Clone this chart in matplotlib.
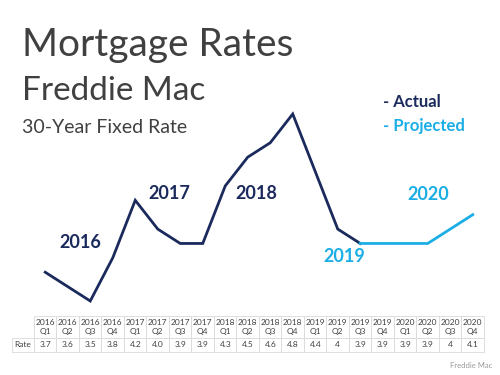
import matplotlib.pyplot as plt

years = ["2016", "2016", "2016", "2016", "2017", "2017", "2017", "2017",
         "2018", "2018", "2018", "2018", "2019", "2019", "2019", "2019",
         "2020", "2020", "2020", "2020"]
quarters = ["Q1", "Q2", "Q3", "Q4"] * 5
rates = [3.7, 3.6, 3.5, 3.8, 4.2, 4.0, 3.9, 3.9, 4.3, 4.5, 4.6, 4.8,
         4.4, 4.0, 3.9, 3.9, 3.9, 3.9, 4.0, 4.1]
rate_labels = ["3.7", "3.6", "3.5", "3.8", "4.2", "4.0", "3.9", "3.9", "4.3", "4.5",
               "4.6", "4.8", "4.4", "4", "3.9", "3.9", "3.9", "3.9", "4", "4.1"]
n_actual = 15  # through 2019 Q3, projected after

navy = "#1b2a5c"
sky = "#1aaee5"
grey = "#404040"
font = "Lato"

W, H = 500, 375
fig = plt.figure(figsize=(5, 3.75), dpi=100)

def box(x0, y0, x1, y1):
    return [x0 / W, 1 - y1 / H, (x1 - x0) / W, (y1 - y0) / H]

ax = fig.add_axes(box(34, 100, 484, 310))
x = list(range(len(rates)))
ax.plot(x[:n_actual], rates[:n_actual], color=navy, lw=2.0, solid_joinstyle="miter")
ax.plot(x[n_actual - 1:], rates[n_actual - 1:], color=sky, lw=2.0, solid_joinstyle="miter")
ax.set_xlim(-0.5, 19.5)
ax.set_ylim(3.5 - 9 / 144, 4.8 + 14 / 144)
ax.axis("off")

# year labels
ylab = dict(fontsize=13, fontweight="bold", ha="center", va="center", family=font)
ax.text(1.55, 3.91, "2016", color=navy, **ylab)
ax.text(5.5, 4.25, "2017", color=navy, **ylab)
ax.text(9.4, 4.25, "2018", color=navy, **ylab)
ax.text(13.3, 3.81, "2019", color=sky, **ylab)
ax.text(17.0, 4.24, "2020", color=sky, **ylab)

# titles
fig.text(22 / W, 1 - 56 / H, "Mortgage Rates", color=grey, fontsize=28, family=font)
fig.text(22 / W, 1 - 100 / H, "Freddie Mac", color=grey, fontsize=24, family=font)
fig.text(22 / W, 1 - 133 / H, "30-Year Fixed Rate", color=grey, fontsize=14, family=font)

fig.text(383 / W, 1 - 107 / H, "- Actual", color=navy, fontsize=12, fontweight="bold", family=font)
fig.text(383 / W, 1 - 131 / H, "- Projected", color=sky, fontsize=12, fontweight="bold", family=font)

fig.text(492 / W, 1 - 368 / H, "Freddie Mac", color="#999999", fontsize=5.5, ha="right", family=font)

# data table
tax = fig.add_axes(box(12, 316, 484, 352))
tax.axis("off")
header = [""] + [f"{y}\n{q}" for y, q in zip(years, quarters)]
row = ["Rate"] + rate_labels
widths = [22 / 472] + [22.5 / 472] * len(rates)
tbl = tax.table(cellText=[header, row], colWidths=widths, bbox=[0, 0, 1, 1], cellLoc="center")
tbl.auto_set_font_size(False)
for (r, c), cell in tbl.get_celld().items():
    cell.set_edgecolor("#d9d9d9")
    cell.set_linewidth(0.6)
    cell.get_text().set_fontsize(6)
    cell.get_text().set_color(grey)
    cell.get_text().set_family(font)
    cell.get_text().set_linespacing(1.3)
    cell.set_height(0.61 if r == 0 else 0.39)
tbl[0, 0].visible_edges = ""

fig.savefig("out.png", dpi=100)
